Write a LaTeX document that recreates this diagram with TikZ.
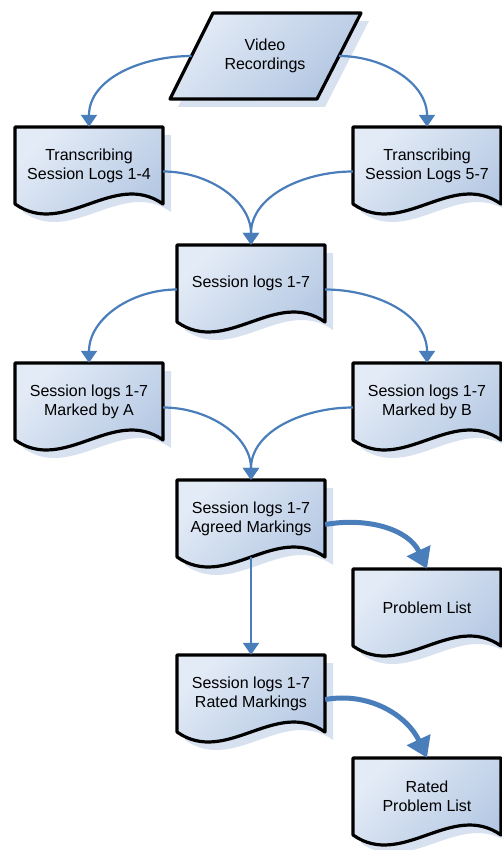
\documentclass[tikz,border=0pt]{standalone}
\usepackage{fontspec}
\setmainfont{Liberation Sans}
\usetikzlibrary{arrows.meta,
                calc,
                positioning}

\definecolor{flowblue}{HTML}{4A7EBB}
\definecolor{docshade}{HTML}{D7E1EF}
\definecolor{doclight}{HTML}{E3EBF6}
\definecolor{docdark}{HTML}{B2C6E2}

% outline of one document box, centred on (0,0)
\newcommand{\docpath}{(-74,38.5) -- (74,38.5) -- (74,-38.5) .. controls (24.7,-3.9) and (-24.7,-73.1) .. (-74,-38.5) -- cycle}
% name, x, y, text
\newcommand{\docnode}[4]{%
  \fill [docshadow, shift={(#2+8,#3-8)}] \docpath;
  \draw [docbody, shift={(#2,#3)}] \docpath;
  \node (#1) [doctext] at (#2,#3) {#4};
}

\begin{document}
\begin{tikzpicture}[
        x=1pt, y=1pt,
        docshadow/.style={fill=docshade},
        docbody/.style={draw=black, line width=3.2pt, line join=round, top color=doclight, bottom color=docdark, shading angle=45},
        doctext/.style={minimum width=148pt, minimum height=77pt, inner sep=0pt, align=center, font=\fontsize{16}{19}\selectfont},
        flow/.style={draw=flowblue, line width=2.2pt, arrows={-Triangle[length=12pt, width=16pt]}},
        bigflow/.style={draw=flowblue, line width=5pt, arrows={-Triangle[length=20pt, width=25pt]}}
        ]
        \useasboundingbox (0,0) rectangle (502,-850);

        % input
        \fill [docshadow] (221,-21) -- (369,-21) -- (325,-107) -- (178,-107) -- cycle;
        \draw [docbody] (213,-13) -- (361,-13) -- (317,-99) -- (170,-99) -- cycle;
        \node (video) [doctext, minimum width=100pt, minimum height=40pt] at (265,-56) {Video\\Recordings};
        \coordinate (video-l) at (191.5,-56);
        \coordinate (video-r) at (339,-56);

        % documents
        \docnode{trans14}{89}{-165.5}{Transcribing\\Session Logs 1-4}
        \docnode{trans57}{427}{-165.5}{Transcribing\\Session Logs 5-7}
        \docnode{logs}{251}{-283.5}{Session logs 1-7}
        \docnode{markA}{89}{-401.5}{Session logs 1-7\\Marked by A}
        \docnode{markB}{427}{-401.5}{Session logs 1-7\\Marked by B}
        \docnode{agreed}{251}{-518.5}{Session logs 1-7\\Agreed Markings}
        \docnode{problems}{427}{-607.5}{Problem List}
        \docnode{rated}{251}{-693.5}{Session logs 1-7\\Rated Markings}
        \docnode{ratedprob}{427}{-796.5}{Rated\\Problem List}

        \draw [flow] (video-l) to[out=180, in=90] (trans14.north);
        \draw [flow] (video-r) to[out=0, in=90] (trans57.north);
        \draw [flow] ([yshift=-6pt]trans14.east) to[out=0, in=90] (logs.north);
        \draw [flow] ([yshift=-6pt]trans57.west) to[out=180, in=90] (logs.north);
        \draw [flow] ([yshift=-6pt]logs.west) to[out=180, in=90] (markA.north);
        \draw [flow] ([yshift=-6pt]logs.east) to[out=0, in=90] (markB.north);
        \draw [flow] ([yshift=-6pt]markA.east) to[out=0, in=90] (agreed.north);
        \draw [flow] ([yshift=-6pt]markB.west) to[out=180, in=90] (agreed.north);
        \draw [flow] (agreed.south) -- (rated.north);
        \draw [bigflow] ([yshift=-6pt]agreed.east) to[out=10, in=115] (problems.north);
        \draw [bigflow] ([yshift=-6pt]rated.east) to[out=10, in=115] (ratedprob.north);

    \end{tikzpicture}
\end{document}
